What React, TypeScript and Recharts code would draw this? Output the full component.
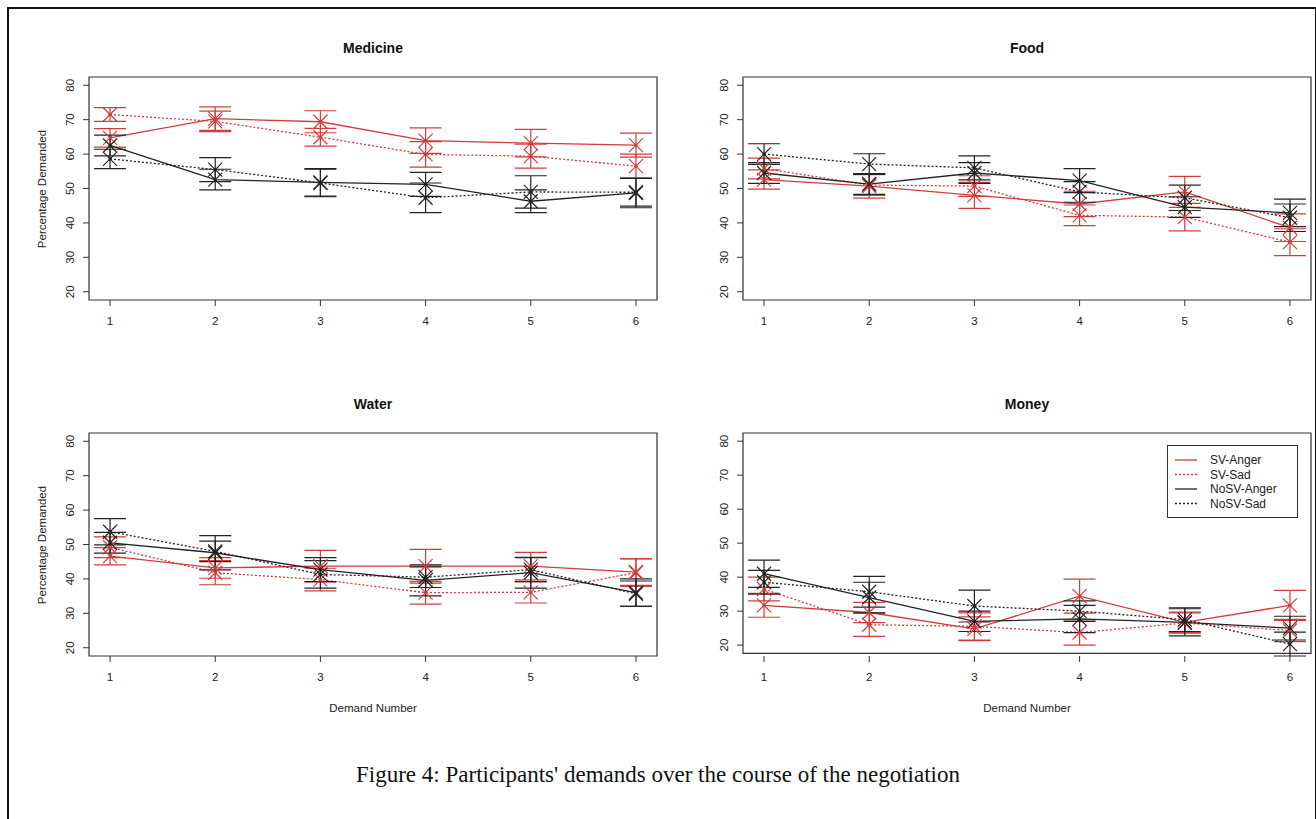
import React from 'react';
import { LineChart, Line, XAxis, YAxis, ErrorBar, ReferenceArea, Legend } from 'recharts';

// demand number (x) and y ticks
const DEMANDS = [1, 2, 3, 4, 5, 6];
const Y_TICKS = [20, 30, 40, 50, 60, 70, 80];

// Medicine
const MED_SV_ANGER = [64.7, 70.3, 69.4, 63.9, 63.2, 62.6];
const MED_SV_ANGER_ERR = [2.7, 3.4, 3.2, 3.7, 4.0, 3.5];
const MED_SV_SAD = [71.5, 69.5, 64.9, 59.9, 59.4, 56.5];
const MED_SV_SAD_ERR = [2.0, 3.0, 2.6, 3.7, 3.5, 3.5];
const MED_NOSV_ANGER = [62.5, 52.6, 51.8, 51.2, 46.3, 48.7];
const MED_NOSV_ANGER_ERR = [3.0, 3.0, 4.0, 3.5, 3.3, 4.3];
const MED_NOSV_SAD = [58.6, 55.5, 51.6, 47.3, 49.0, 48.9];
const MED_NOSV_SAD_ERR = [2.8, 3.5, 4.0, 4.3, 4.7, 4.0];

// Food
const FOOD_SV_ANGER = [52.6, 50.7, 48.0, 45.5, 49.0, 38.6];
const FOOD_SV_ANGER_ERR = [2.8, 3.5, 3.8, 3.7, 4.5, 4.0];
const FOOD_SV_SAD = [55.8, 51.0, 50.7, 42.2, 41.7, 34.4];
const FOOD_SV_SAD_ERR = [3.0, 3.0, 3.0, 3.0, 4.0, 3.9];
const FOOD_NOSV_ANGER = [54.5, 51.3, 54.5, 52.3, 44.6, 42.9];
const FOOD_NOSV_ANGER_ERR = [3.0, 3.0, 3.0, 3.5, 3.0, 4.0];
const FOOD_NOSV_SAD = [60.0, 57.1, 56.0, 49.0, 47.3, 41.5];
const FOOD_NOSV_SAD_ERR = [3.0, 3.0, 3.5, 3.0, 3.7, 4.0];

// Water
const WATER_SV_ANGER = [46.6, 43.2, 43.7, 43.7, 43.7, 42.0];
const WATER_SV_ANGER_ERR = [2.5, 3.0, 4.6, 4.9, 4.0, 3.9];
const WATER_SV_SAD = [49.2, 41.8, 39.8, 36.0, 36.1, 41.8];
const WATER_SV_SAD_ERR = [3.0, 3.5, 3.3, 3.3, 3.1, 4.0];
const WATER_NOSV_ANGER = [50.5, 47.6, 42.7, 39.6, 41.8, 36.0];
const WATER_NOSV_ANGER_ERR = [3.0, 5.0, 3.5, 4.5, 4.5, 4.0];
const WATER_NOSV_SAD = [53.7, 48.0, 41.3, 40.5, 42.7, 35.7];
const WATER_NOSV_SAD_ERR = [3.8, 3.0, 4.0, 3.0, 3.5, 3.7];

// Money
const MONEY_SV_ANGER = [31.7, 29.6, 24.8, 34.4, 26.7, 31.7];
const MONEY_SV_ANGER_ERR = [3.5, 3.0, 3.5, 5.0, 3.0, 4.4];
const MONEY_SV_SAD = [36.5, 26.0, 25.5, 23.7, 26.5, 24.3];
const MONEY_SV_SAD_ERR = [3.5, 3.4, 4.0, 3.7, 3.0, 3.3];
const MONEY_NOSV_ANGER = [41.0, 34.0, 27.0, 27.7, 26.7, 25.0];
const MONEY_NOSV_ANGER_ERR = [4.0, 4.5, 3.0, 4.0, 4.0, 3.5];
const MONEY_NOSV_SAD = [38.5, 35.7, 31.5, 30.0, 27.5, 20.3];
const MONEY_NOSV_SAD_ERR = [3.5, 4.5, 4.7, 3.0, 3.5, 3.5];

const RED = '#d43b3b';
const BLACK = '#222222';
const FONT = '"Liberation Sans", Arial, sans-serif';

const SERIES = [
  { key: 'sa', name: 'SV-Anger', color: RED, dash: undefined },
  { key: 'ss', name: 'SV-Sad', color: RED, dash: '2 2' },
  { key: 'na', name: 'NoSV-Anger', color: BLACK, dash: undefined },
  { key: 'ns', name: 'NoSV-Sad', color: BLACK, dash: '2 2' },
];

function buildRows(sa, saE, ss, ssE, na, naE, ns, nsE) {
  return DEMANDS.map((x, i) => ({
    x,
    sa: sa[i], saE: saE[i],
    ss: ss[i], ssE: ssE[i],
    na: na[i], naE: naE[i],
    ns: ns[i], nsE: nsE[i],
  }));
}

const PANELS = [
  {
    title: 'Medicine', boxLeft: 89, boxTop: 77, yLabel: true, xLabel: false, legend: false,
    rows: buildRows(MED_SV_ANGER, MED_SV_ANGER_ERR, MED_SV_SAD, MED_SV_SAD_ERR,
      MED_NOSV_ANGER, MED_NOSV_ANGER_ERR, MED_NOSV_SAD, MED_NOSV_SAD_ERR),
  },
  {
    title: 'Food', boxLeft: 743, boxTop: 77, yLabel: false, xLabel: false, legend: false,
    rows: buildRows(FOOD_SV_ANGER, FOOD_SV_ANGER_ERR, FOOD_SV_SAD, FOOD_SV_SAD_ERR,
      FOOD_NOSV_ANGER, FOOD_NOSV_ANGER_ERR, FOOD_NOSV_SAD, FOOD_NOSV_SAD_ERR),
  },
  {
    title: 'Water', boxLeft: 89, boxTop: 433, yLabel: true, xLabel: true, legend: false,
    rows: buildRows(WATER_SV_ANGER, WATER_SV_ANGER_ERR, WATER_SV_SAD, WATER_SV_SAD_ERR,
      WATER_NOSV_ANGER, WATER_NOSV_ANGER_ERR, WATER_NOSV_SAD, WATER_NOSV_SAD_ERR),
  },
  {
    title: 'Money', boxLeft: 743, boxTop: 433, yLabel: false, xLabel: true, legend: true,
    rows: buildRows(MONEY_SV_ANGER, MONEY_SV_ANGER_ERR, MONEY_SV_SAD, MONEY_SV_SAD_ERR,
      MONEY_NOSV_ANGER, MONEY_NOSV_ANGER_ERR, MONEY_NOSV_SAD, MONEY_NOSV_SAD_ERR),
  },
];

const BOX_W = 568;
const BOX_H = 223;
const M_LEFT = 49;
const Y_AXIS_W = 40;
const M_TOP = 37;
const X_AXIS_H = 30;
const M_BOTTOM = 10;
const M_RIGHT = 4;

const XTick = ({ x, y, payload }: any) => (
  <text x={x} y={y} dy="0.71em" textAnchor="middle" fontSize={11.5} fill="#222" fontFamily={FONT}>
    {payload.value}
  </text>
);

const YTick = ({ x, y, payload }: any) => (
  <g transform={`translate(${x - 5},${y})`}>
    <text transform="rotate(-90)" textAnchor="middle" fontSize={11.5} fill="#222" fontFamily={FONT}>
      {payload.value}
    </text>
  </g>
);

const makeDot = (color: string) => (props: any) => {
  const { cx, cy, index } = props;
  if (cx == null || cy == null) return <g key={index} />;
  const s = 7;
  return (
    <g key={index}>
      <line x1={cx - s} y1={cy - s} x2={cx + s} y2={cy + s} stroke={color} strokeWidth={1.2} />
      <line x1={cx - s} y1={cy + s} x2={cx + s} y2={cy - s} stroke={color} strokeWidth={1.2} />
      <circle cx={cx} cy={cy} r={1.6} fill={color} />
    </g>
  );
};

// legend drawn in the series order (SV first), like the R legend
const LegendBox = () => (
  <svg width={131} height={73} style={{ display: 'block' }}>
    <rect x={0.5} y={0.5} width={130} height={72} fill="#fff" stroke="#333" strokeWidth={1} />
    {SERIES.map((s, i) => {
      const y = 15 + i * 14.5;
      return (
        <g key={s.key}>
          <line x1={8} x2={30} y1={y} y2={y} stroke={s.color} strokeWidth={1.3} strokeDasharray={s.dash} />
          <text x={43} y={y + 4} fontSize={12} fill="#222" fontFamily={FONT}>{s.name}</text>
        </g>
      );
    })}
  </svg>
);

function Panel({ panel }: any) {
  const chartLeft = panel.boxLeft - M_LEFT - Y_AXIS_W;
  const chartTop = panel.boxTop - M_TOP;
  const width = M_LEFT + Y_AXIS_W + BOX_W + M_RIGHT;
  const height = M_TOP + BOX_H + X_AXIS_H + M_BOTTOM;
  const centerX = panel.boxLeft + BOX_W / 2;
  return (
    <>
      <div style={{ position: 'absolute', left: chartLeft, top: chartTop, width, height }}>
        <LineChart
          width={width}
          height={height}
          data={panel.rows}
          margin={{ top: M_TOP, right: M_RIGHT, bottom: M_BOTTOM, left: M_LEFT }}
        >
          <XAxis
            dataKey="x"
            type="number"
            domain={[0.8, 6.2]}
            ticks={DEMANDS}
            height={X_AXIS_H}
            axisLine={false}
            tickLine={{ stroke: '#333' }}
            tickSize={6}
            tickMargin={11}
            tick={<XTick />}
            interval={0}
          />
          <YAxis
            type="number"
            domain={[17.6, 82.4]}
            ticks={Y_TICKS}
            width={Y_AXIS_W}
            axisLine={false}
            tickLine={{ stroke: '#333' }}
            tickSize={6}
            tickMargin={4}
            tick={<YTick />}
            interval={0}
          />
          <ReferenceArea x1={0.8} x2={6.2} y1={17.6} y2={82.4} fill="none" stroke="#333" strokeWidth={1.2} />
          {SERIES.map((s) => (
            <Line
              key={s.key}
              dataKey={s.key}
              name={s.name}
              type="linear"
              stroke={s.color}
              strokeWidth={1.3}
              strokeDasharray={s.dash}
              dot={makeDot(s.color)}
              activeDot={false}
              isAnimationActive={false}
            >
              <ErrorBar
                dataKey={`${s.key}E`}
                direction="y"
                width={16}
                stroke={s.color}
                strokeWidth={1.2}
                isAnimationActive={false}
              />
            </Line>
          ))}
          {panel.legend && (
            <Legend
              layout="horizontal"
              verticalAlign="middle"
              align="center"
              content={<LegendBox />}
              wrapperStyle={{ position: 'absolute', left: 1167 - chartLeft, top: 445 - chartTop, width: 131, height: 73 }}
            />
          )}
        </LineChart>
      </div>
      <div
        style={{
          position: 'absolute', left: centerX - 100, width: 200, top: panel.boxTop - 37,
          textAlign: 'center', fontFamily: FONT, fontWeight: 'bold', fontSize: 14, color: '#111',
        }}
      >
        {panel.title}
      </div>
      {panel.yLabel && (
        <div
          style={{
            position: 'absolute', left: 42 - 100, top: panel.boxTop + BOX_H / 2 - 8, width: 200,
            textAlign: 'center', fontFamily: FONT, fontSize: 11.5, color: '#222',
            transform: 'rotate(-90deg)', lineHeight: '16px',
          }}
        >
          Percentage Demanded
        </div>
      )}
      {panel.xLabel && (
        <div
          style={{
            position: 'absolute', left: centerX - 100, width: 200, top: panel.boxTop + BOX_H + 44,
            textAlign: 'center', fontFamily: FONT, fontSize: 11.5, color: '#222', lineHeight: '16px',
          }}
        >
          Demand Number
        </div>
      )}
    </>
  );
}

export default function App() {
  return (
    <div style={{ position: 'absolute', left: 0, top: 0, width: 1316, height: 819, overflow: 'hidden', background: '#fff' }}>
      <div style={{ position: 'absolute', left: 7, top: 7, width: 1306, height: 860, border: '2px solid #111' }} />
      {PANELS.map((p) => (
        <Panel key={p.title} panel={p} />
      ))}
      <div
        style={{
          position: 'absolute', left: 0, width: 1316, top: 761, textAlign: 'center',
          fontFamily: '"Liberation Serif", "Times New Roman", serif', fontSize: 23, color: '#111',
          lineHeight: '28px',
        }}
      >
        Figure 4: Participants' demands over the course of the negotiation
      </div>
    </div>
  );
}
